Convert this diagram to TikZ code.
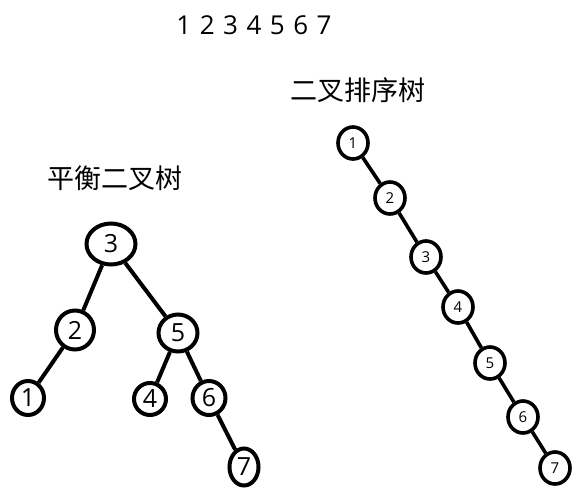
\documentclass[tikz,border=0pt]{standalone}
\usepackage{fontspec}
\setmainfont{Open Sans}
\newfontfamily\cjk{Noto Sans CJK SC}
\usetikzlibrary{shapes.geometric}
\begin{document}
\begin{tikzpicture}[x=1pt,y=-1pt,
  big/.style={ellipse,draw,line width=4pt,inner sep=0pt,font=\fontsize{25}{25}\selectfont},
  small/.style={ellipse,draw,line width=3.6pt,inner sep=0pt,minimum width=30pt,minimum height=32pt,font=\fontsize{15}{15}\selectfont},
  edge/.style={line width=4pt},
  sedge/.style={line width=3.6pt}]
\useasboundingbox (0,0) rectangle (582,501);
\node[font=\fontsize{26}{26}\selectfont] (seq) at (254,25) {1\hspace{8.5pt}2\hspace{8.5pt}3\hspace{8.5pt}4\hspace{8.5pt}5\hspace{8.5pt}6\hspace{8.5pt}7};
\node[font=\cjk\fontsize{27}{27}\selectfont] (t1) at (358,90) {二叉排序树};
\node[font=\cjk\fontsize{27}{27}\selectfont] (t2) at (115,178) {平衡二叉树};
% left tree
\node[big,minimum width=49pt,minimum height=41pt] (a3) at (111,244) {3};
\node[big,minimum width=38pt,minimum height=39pt] (a2) at (75,330) {2};
\node[big,minimum width=39pt,minimum height=37pt] (a5) at (178,333) {5};
\node[big,minimum width=32pt,minimum height=34pt] (a1) at (28,398) {1};
\node[big,minimum width=32pt,minimum height=32pt] (a4) at (150,399) {4};
\node[big,minimum width=33pt,minimum height=34pt] (a6) at (209,398) {6};
\node[big,minimum width=29pt,minimum height=37pt] (a7) at (244,467) {7};
\draw[edge] (a3) -- (a2);
\draw[edge] (a3) -- (a5);
\draw[edge] (a2) -- (a1);
\draw[edge] (a5) -- (a4);
\draw[edge] (a5) -- (a6);
\draw[edge] (a6) -- (a7);
% right tree
\node[small] (b1) at (353,143) {1};
\node[small] (b2) at (390,198) {2};
\node[small] (b3) at (426,257) {3};
\node[small] (b4) at (458,307) {4};
\node[small] (b5) at (490,363) {5};
\node[small] (b6) at (523,417) {6};
\node[small] (b7) at (555,468) {7};
\draw[sedge] (b1) -- (b2);
\draw[sedge] (b2) -- (b3);
\draw[sedge] (b3) -- (b4);
\draw[sedge] (b4) -- (b5);
\draw[sedge] (b5) -- (b6);
\draw[sedge] (b6) -- (b7);
\end{tikzpicture}
\end{document}
